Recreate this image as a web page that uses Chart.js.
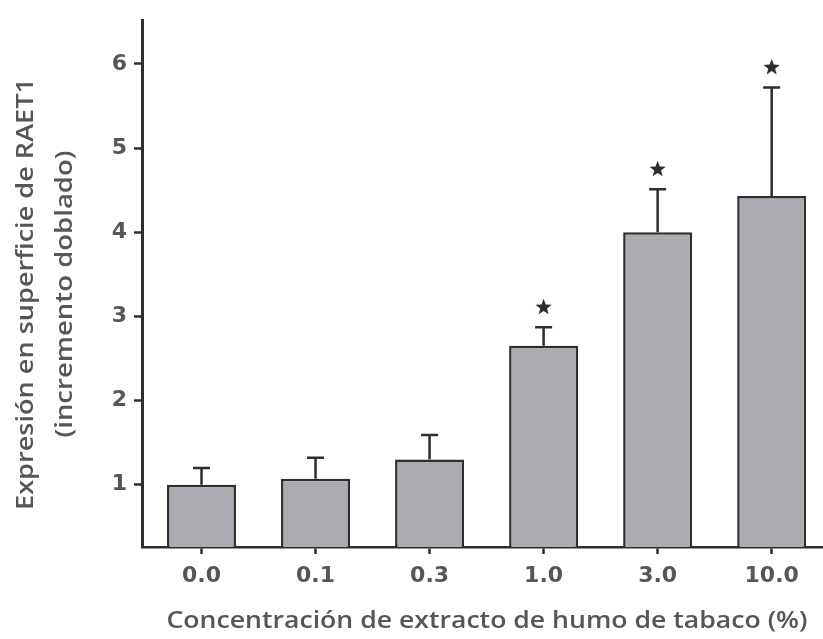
<!DOCTYPE html>
<html>
<head>
<meta charset="utf-8">
<script src="https://cdn.jsdelivr.net/npm/chart.js@4.4.1/dist/chart.umd.min.js"></script>
<style>
  html, body { margin: 0; padding: 0; background: #fff; overflow: hidden; }
  #wrap { width: 823px; height: 639px; position: relative; }
</style>
</head>
<body>
<div id="wrap"><canvas id="chart"></canvas></div>
<script>
// Concentration groups (x categories)
const categories = ['0.0', '0.1', '0.3', '1.0', '3.0', '10.0'];
// Mean fold-change of RAET1 surface expression
const means = [1.00, 1.07, 1.30, 2.65, 4.00, 4.43];
// Upper error (SD) above each mean
const upperErr = [0.20, 0.25, 0.29, 0.22, 0.51, 1.29];
// Groups marked as significant
const significant = [false, false, false, true, true, true];
// Y-axis tick values
const yTicks = [1, 2, 3, 4, 5, 6];

const yTitleLines = ['Expresión en superficie de RAET1', '(incremento doblado)'];
const xTitle = 'Concentración de extracto de humo de tabaco (%)';

const INK = '#2e2e2e';
const LABEL = '#565656';
const TITLE_FONT = '600 24px "Open Sans", Lato, sans-serif';
const TICK_FONT = { family: '"DejaVu Sans", sans-serif', size: 22, weight: 'bold' };

// Error bars with caps and significance stars above them
const errorBarPlugin = {
  id: 'errorBars',
  afterDatasetsDraw(chart) {
    const ctx = chart.ctx;
    const y = chart.scales.y;
    const meta = chart.getDatasetMeta(0);
    ctx.save();
    ctx.strokeStyle = INK;
    ctx.fillStyle = INK;
    ctx.lineWidth = 2.5;
    meta.data.forEach((bar, i) => {
      const top = y.getPixelForValue(means[i] + upperErr[i]);
      ctx.beginPath();
      ctx.moveTo(bar.x, bar.y);
      ctx.lineTo(bar.x, top);
      ctx.moveTo(bar.x - 8.5, top);
      ctx.lineTo(bar.x + 8.5, top);
      ctx.stroke();
      if (significant[i]) {
        const cy = top - 20;
        const rO = 8.5, rI = 3.6;
        ctx.beginPath();
        for (let k = 0; k < 10; k++) {
          const r = k % 2 === 0 ? rO : rI;
          const a = -Math.PI / 2 + k * Math.PI / 5;
          const px = bar.x + r * Math.cos(a);
          const py = cy + r * Math.sin(a);
          if (k === 0) ctx.moveTo(px, py); else ctx.lineTo(px, py);
        }
        ctx.closePath();
        ctx.fill();
      }
    });
    ctx.restore();
  }
};

// Draw a centred text line stretched along its direction to a given length
function drawFitted(ctx, text, cx, baseline, length) {
  const w = ctx.measureText(text).width;
  ctx.save();
  ctx.translate(cx, baseline);
  ctx.scale(length / w, 1);
  ctx.fillText(text, 0, 0);
  ctx.restore();
}

// Axis titles
const axisTitlePlugin = {
  id: 'axisTitles',
  afterDraw(chart) {
    const ctx = chart.ctx;
    ctx.save();
    ctx.fillStyle = LABEL;
    ctx.font = TITLE_FONT;
    ctx.textAlign = 'center';
    ctx.textBaseline = 'alphabetic';
    drawFitted(ctx, xTitle, 487, 628, 641);
    ctx.translate(0, 294);
    ctx.rotate(-Math.PI / 2);
    drawFitted(ctx, yTitleLines[0], 0, 33, 432);
    drawFitted(ctx, yTitleLines[1], 0, 72, 287);
    ctx.restore();
  }
};

new Chart(document.getElementById('chart'), {
  type: 'bar',
  data: {
    datasets: [{
      data: means.map((v, i) => ({ x: i, y: v })),
      backgroundColor: '#abacb1',
      borderColor: INK,
      borderWidth: 2.5,
      borderSkipped: 'bottom',
      barPercentage: 0.605,
      categoryPercentage: 1.0
    }]
  },
  options: {
    responsive: true,
    maintainAspectRatio: false,
    animation: false,
    devicePixelRatio: 1,
    layout: { padding: { top: 10, left: 0, right: 0, bottom: 0 } },
    plugins: { legend: { display: false }, tooltip: { enabled: false } },
    scales: {
      x: {
        type: 'linear',
        offset: false,
        min: -0.5217,
        max: 5.45,
        afterBuildTicks: s => { s.ticks = categories.map((c, i) => ({ value: i })); },
        afterFit: s => { s.height = 92; },
        border: { display: true, color: INK, width: 2.5 },
        grid: { offset: false, drawOnChartArea: false, drawTicks: true, tickLength: 7, tickWidth: 2.5, tickColor: INK },
        ticks: {
          padding: 9,
          color: LABEL,
          font: TICK_FONT,
          maxRotation: 0,
          autoSkip: false,
          callback: v => categories[v]
        }
      },
      y: {
        min: 0.26,
        max: 6.52,
        afterBuildTicks: s => { s.ticks = yTicks.map(v => ({ value: v })); },
        afterFit: s => { s.width = 142; },
        border: { display: true, color: INK, width: 3 },
        grid: { drawOnChartArea: false, drawTicks: true, tickLength: 8, tickWidth: 2.5, tickColor: INK },
        ticks: {
          padding: 7,
          color: LABEL,
          font: TICK_FONT
        }
      }
    }
  },
  plugins: [errorBarPlugin, axisTitlePlugin]
});
</script>
</body>
</html>
